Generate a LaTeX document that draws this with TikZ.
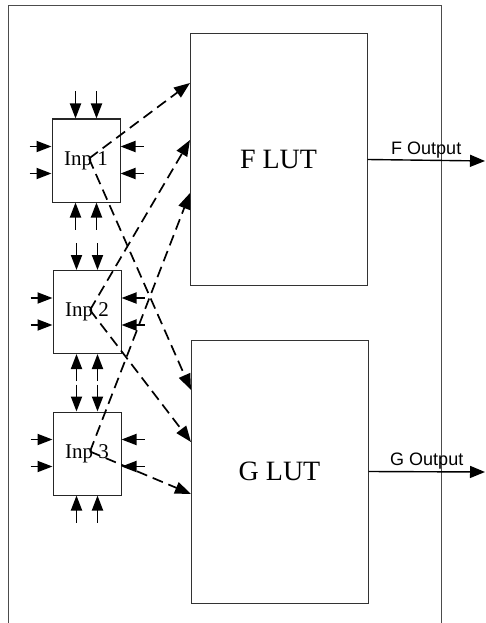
\documentclass[tikz,border=0pt]{standalone}
\usepackage{fontspec}
\setmainfont{Liberation Serif}
\newfontfamily\outfont{Liberation Sans}
\usetikzlibrary{arrows.meta, calc}
\begin{document}
\begin{tikzpicture}[x=1pt, y=-1pt,
	inbox/.style={draw=black!85, line width=1pt, minimum width=68pt, minimum height=83pt, inner sep=0pt, font=\fontsize{21}{21}\selectfont},
	lut/.style={draw=black!80, line width=1pt, minimum width=177pt, inner sep=0pt, font=\fontsize{28}{28}\selectfont},
	pinarrow/.style={-{Triangle[length=15pt,width=11pt]}, line width=1.8pt},
	link/.style={-{Triangle[length=16pt,width=12pt]}, line width=1.7pt, dash pattern=on 11pt off 6pt},
	outlbl/.style={midway, above, inner sep=1.5pt, font=\outfont\fontsize{18}{18}\selectfont},
	outarrow/.style={-{Triangle[length=15pt,width=12pt]}, line width=1.4pt}]
	\useasboundingbox (0,0) rectangle (485,623);
	% outer frame, open at the bottom
	\draw[black!70, line width=1pt] (8,623) -- (8,6) -- (441,6) -- (441,623);
	\node[lut, minimum height=251pt] (flut) at (278.5,159.5) {F LUT};
	\node[lut, minimum height=263pt] (glut) at (279.5,471.5) {G LUT};
	\node[inbox] (inp1) at (86,160.5) {Inp 1};
	\node[inbox] (inp2) at (87,312) {Inp 2};
	\node[inbox] (inp3) at (87,453.5) {Inp 3};
	\path
	(190,83) coordinate (f1)
	(190,140) coordinate (f2)
	(190,193) coordinate (f3)
	(191,390) coordinate (g1)
	(191,442) coordinate (g2)
	(191,494) coordinate (g3)
	(485,161) coordinate (fend)
	(485,472) coordinate (gend);
	\foreach \b in {inp1, inp2, inp3} {
		\foreach \dx in {24, 45} {
			\draw[pinarrow] ($(\b.north west)+(\dx,-27)$) -- ($(\b.north west)+(\dx,0)$);
			\draw[pinarrow] ($(\b.south west)+(\dx,27)$) -- ($(\b.south west)+(\dx,0)$);
		}
		\foreach \dy in {28, 55} {
			\draw[pinarrow] ($(\b.north west)+(-22,\dy)$) -- ($(\b.north west)+(0,\dy)$);
			\draw[pinarrow] ($(\b.north east)+(23,\dy)$) -- ($(\b.north east)+(0,\dy)$);
		}
	}
	\foreach \n in {1, 2, 3} {
		\coordinate (s\n) at ($(inp\n.center)+(3,-2)$);
		\draw[link] (s\n) -- (f\n);
		\draw[link] (s\n) -- (g\n);
	}
	\draw[outarrow] (flut.east) -- (fend) node[outlbl] {F Output};
	\draw[outarrow] (glut.east) -- (gend) node[outlbl] {G Output};
\end{tikzpicture}
\end{document}
